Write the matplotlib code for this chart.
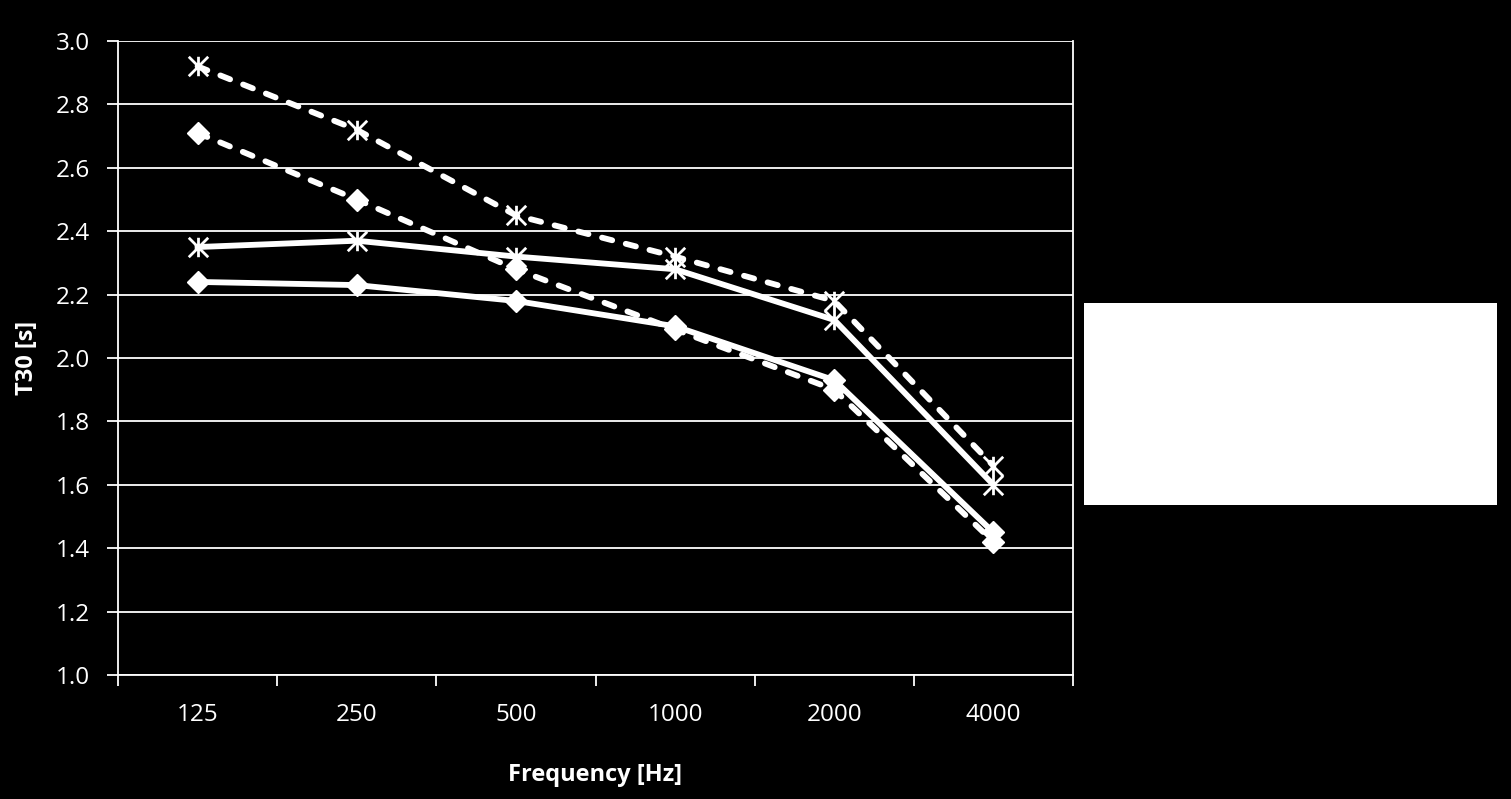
import numpy as np
import matplotlib.pyplot as plt
from matplotlib.path import Path
from matplotlib.patches import Rectangle

# DATA
freqs = ['125', '250', '500', '1000', '2000', '4000']
star_dashed = [2.92, 2.72, 2.45, 2.32, 2.18, 1.66]
diamond_dashed = [2.71, 2.50, 2.28, 2.09, 1.90, 1.42]
star_solid = [2.35, 2.37, 2.32, 2.28, 2.12, 1.60]
diamond_solid = [2.24, 2.23, 2.18, 2.10, 1.93, 1.45]

# excel-like star marker: X plus vertical bar
star = Path([(-1, -1), (1, 1), (-1, 1), (1, -1), (0, -1), (0, 1)],
            [Path.MOVETO, Path.LINETO, Path.MOVETO, Path.LINETO, Path.MOVETO, Path.LINETO])

plt.rcParams['font.family'] = ['Open Sans', 'DejaVu Sans']

fig = plt.figure(figsize=(15.11, 7.99), dpi=100, facecolor='black')
ax = fig.add_axes([118/1511, 1 - 675/799, (1073-118)/1511, (675-41)/799])
ax.set_facecolor('black')

x = np.arange(len(freqs))
lw = 4.2
dash = (0, (1.8, 2.4))
ax.plot(x, star_dashed, color='white', lw=lw, ls=dash, dash_capstyle='round',
        marker=star, ms=14, mew=2, mec='white', mfc='none', zorder=3)
ax.plot(x, diamond_dashed, color='white', lw=lw, ls=dash, dash_capstyle='round',
        marker='D', ms=11.5, mec='white', mfc='white', zorder=3)
ax.plot(x, star_solid, color='white', lw=lw, marker=star, ms=14, mew=2,
        mec='white', mfc='none', zorder=3)
ax.plot(x, diamond_solid, color='white', lw=lw, marker='D', ms=11.5,
        mec='white', mfc='white', zorder=3)

ax.set_xlim(-0.5, len(freqs) - 0.5)
ax.set_ylim(1.0, 3.0)
ax.set_yticks(np.arange(1.0, 3.01, 0.2))
ax.set_yticklabels([f'{v:.1f}' for v in np.arange(1.0, 3.01, 0.2)])
ax.set_xticks(x)
ax.set_xticklabels(freqs)
ax.set_xticks(np.arange(-0.5, len(freqs)), minor=True)
ax.tick_params(axis='x', which='major', length=0, pad=20, labelsize=17.5, colors='white')
ax.tick_params(axis='x', which='minor', length=8, width=1.3, color='white', direction='out')
ax.tick_params(axis='y', length=8, width=1.3, colors='white', labelsize=17.5, pad=12)
ax.grid(axis='y', color='white', lw=1.3)
ax.set_axisbelow(True)
for s in ax.spines.values():
    s.set_color('white')
    s.set_linewidth(1.3)
ax.spines['top'].set_visible(False)

ax.set_xlabel('Frequency [Hz]', color='white', fontsize=17, fontweight='bold', labelpad=26)
ax.set_ylabel('T30 [s]', color='white', fontsize=17, fontweight='bold', labelpad=12)

# legend box (blank in the original)
fig.patches.append(Rectangle((1084/1511, 1 - 505/799), (1497-1084)/1511, (505-303)/799,
                             transform=fig.transFigure, facecolor='white', edgecolor='none'))

fig.savefig('out.png', dpi=100, facecolor='black')
